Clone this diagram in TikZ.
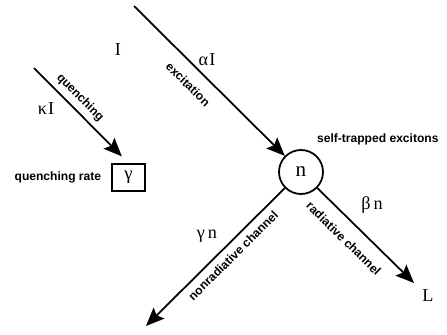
\documentclass[tikz,border=0pt]{standalone}
\usepackage{fontspec}
\setmainfont{Liberation Serif}
\setsansfont{Liberation Sans}
\usetikzlibrary{arrows.meta,positioning}

\begin{document}
\begin{tikzpicture}[x=0.03cm,y=-0.03cm,
  state/.style={circle,draw,line width=1.5pt,minimum size=1.32cm,inner sep=0pt,
                font=\fontsize{18}{20}\selectfont},
  ratebox/.style={rectangle,draw,line width=1.5pt,minimum width=0.99cm,
                  minimum height=0.82cm,inner sep=0pt,font=\fontsize{16}{18}\selectfont},
  arrow/.style={-{Stealth[length=5.5mm,width=4.6mm,inset=1mm]},line width=1.5pt},
  lbl/.style={font=\sffamily\bfseries\fontsize{10.3}{12}\selectfont},
  sym/.style={font=\fontsize{15.5}{18}\selectfont}
]
\useasboundingbox (0,0) rectangle (447,334);
% exciton node
\node[state] (n) at (301,172) {n};
\node[lbl,anchor=west] (ste) at (313,139) {self-trapped excitons};
% quenching rate box
\node[ratebox] (gam) at (128.5,177.5) {γ};
\node[lbl,left=5pt of gam] (qrate) {quenching rate};
% free ends
\coordinate (exstart) at (134,6);
\coordinate (qstart) at (34,68);
\coordinate (radend) at (414,283);
\coordinate (nonend) at (146,326);
% symbols
\node[sym] (I) at (118,50) {I};
\node[sym] (aI) at (207,60) {α\kern1pt I};
\node[sym] (kI) at (46,109) {κ\kern1pt I};
\node[sym] (bn) at (372,205) {β\,n};
\node[sym] (gn) at (207,236) {γ\,n};
\node[sym] (L) at (428,296) {L};
% arrows
\draw[arrow] (exstart) -- node[lbl,sloped,below=7pt,pos=0.44] (exlbl) {excitation} (n);
\draw[arrow,shorten >=8pt] (qstart) -- node[lbl,sloped,above=1pt,pos=0.4] (qlbl) {quenching} (gam.north);
\draw[arrow] (n) -- node[lbl,sloped,below=7pt,pos=0.4] (rlbl) {radiative channel} (radend);
\draw[arrow] (n) -- node[lbl,sloped,below=2pt,pos=0.43] (nlbl) {nonradiative channel} (nonend);
\end{tikzpicture}
\end{document}
